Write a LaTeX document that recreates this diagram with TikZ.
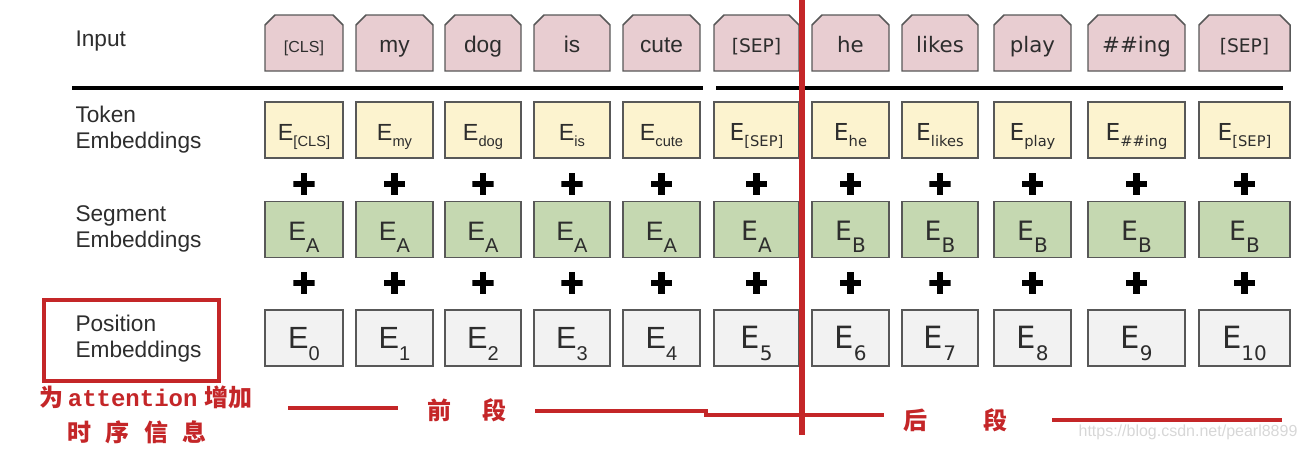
\documentclass[tikz,border=0pt]{standalone}
\usepackage{fontspec}
\setmainfont{Liberation Sans}
\newfontfamily\rfont{DejaVu Sans}
\newfontfamily\cjk{Noto Sans CJK SC}
\newfontfamily\courfont{Liberation Mono}
\usetikzlibrary{shapes.misc}

\definecolor{inpink}{RGB}{232,205,209}
\definecolor{tokyellow}{RGB}{252,243,207}
\definecolor{seggreen}{RGB}{197,216,177}
\definecolor{posgray}{RGB}{242,242,242}
\definecolor{boxgray}{RGB}{88,88,88}
\definecolor{txtgray}{RGB}{45,45,45}
\definecolor{markred}{RGB}{196,38,40}
\definecolor{wmgray}{RGB}{215,215,215}

% column fonts
\newcommand\lsf{\fontsize{17}{17}\selectfont}
\newcommand\rsf{\rfont\fontsize{16}{16}\selectfont}
% embeddings with lowered index
\newcommand\tokE[1]{\fontsize{17.5}{17.5}\selectfont E\raisebox{-5pt}{\fontsize{11}{11}\selectfont #1}}
\newcommand\segE[1]{\fontsize{20}{20}\selectfont E\raisebox{-9pt}{\fontsize{15}{15}\selectfont #1}}
\newcommand\posE[1]{\fontsize{23}{23}\selectfont E\raisebox{-9pt}{\fontsize{15}{15}\selectfont #1}}

\tikzset{every picture/.style={line width=0.75pt}}

\begin{document}
\begin{tikzpicture}[x=0.75pt,y=0.75pt,yscale=-1,xscale=1,
  box/.style={draw=boxgray, line width=1.1pt, minimum height=42pt, inner sep=0pt, text=txtgray},
  inbox/.style={box, chamfered rectangle, chamfered rectangle corners={north west,north east},
    chamfered rectangle xsep=3.5pt, chamfered rectangle ysep=4pt, fill=inpink,
    text height=15pt, text depth=1pt},
  tokbox/.style={box, fill=tokyellow, text height=17pt, text depth=2pt},
  segbox/.style={box, fill=seggreen, text height=18pt, text depth=2pt},
  posbox/.style={box, fill=posgray, text height=17pt, text depth=2pt},
  plussign/.style={minimum size=16pt, inner sep=0pt, path picture={
    \fill ([xshift=-8pt,yshift=-2.3pt]path picture bounding box.center) rectangle ([xshift=8pt,yshift=2.3pt]path picture bounding box.center);
    \fill ([xshift=-2.3pt,yshift=-8pt]path picture bounding box.center) rectangle ([xshift=2.3pt,yshift=8pt]path picture bounding box.center);}},
  rowlabel/.style={anchor=west, align=left, inner sep=0pt, text=txtgray, font=\fontsize{17}{19.5}\selectfont},
  note/.style={inner sep=0pt, text=markred, font=\cjk\bfseries\fontsize{18}{18}\selectfont},
  redline/.style={draw=markred, line width=3.5pt}]
\path[use as bounding box] (0,0) rectangle (1306,450);

% Text Node
\node[rowlabel] (inputlbl) at (75,41) {Input};
\node[rowlabel] (toklbl) at (75,130) {Token\\Embeddings};
\node[rowlabel] (seglbl) at (75,229) {Segment\\Embeddings};
\node[rowlabel] (poslbl) at (75,339) {Position\\Embeddings};

%Shape: rule under the input row
\coordinate (rule0) at (72,88);
\coordinate (rule1) at (703,88);
\coordinate (rule2) at (716,88);
\coordinate (rule3) at (1283,88);
\draw[line width=2.3pt] (rule0) -- (rule1) (rule2) -- (rule3);

%Shape: one column per token
\foreach \i/\cx/\w/\ff/\word/\sub in {
  0/304/78/\lsf/{\fontsize{12}{12}\selectfont[CLS]}/{[CLS]},
  1/394.5/77/\lsf/my/my,
  2/483/76/\lsf/dog/dog,
  3/572/76/\lsf/is/is,
  4/661.5/77/\lsf/cute/cute,
  5/756.5/85/\rsf/{\fontsize{14}{14}\selectfont[SEP]}/{[SEP]},
  6/850.5/77/\rsf/he/he,
  7/940/76/\rsf/likes/likes,
  8/1032.5/77/\rsf/play/play,
  9/1136.5/97/\rsf/{\#\#ing}/{\#\#ing},
  10/1244.5/91/\rsf/{\fontsize{14}{14}\selectfont[SEP]}/{[SEP]}}
{
  \node[inbox, minimum width=\w*0.75pt] (in\i) at (\cx,43) {\ff\word};
  \node[tokbox, minimum width=\w*0.75pt] (tok\i) at (\cx,130) {\ff\tokE{\sub}};
  \node[plussign] (plusa\i) at (\cx,184) {};
  \node[segbox, minimum width=\w*0.75pt] (seg\i) at (\cx,229.5) {\ff\segE{\ifnum\i<6 A\else B\fi}};
  \node[plussign] (plusb\i) at (\cx,283) {};
  \node[posbox, minimum width=\w*0.75pt] (pos\i) at (\cx,338) {\ff\posE{\i}};
}

%Shape: red frame round the position label
\node[draw=markred, line width=3pt, minimum width=131pt, minimum height=61pt] (posframe) at (131.5,340.5) {};

% Text Node
\node[note] (attnote) at (146,397) {为\hspace{3pt}{\courfont\bfseries attention}\hspace{5pt}增加};
\node[note] (timenote) at (137,432) {时\hspace{11pt}序\hspace{11pt}信\hspace{11pt}息};
\node[note] (frontnote) at (467,410) {前\hspace{24pt}段};
\node[note] (backnote) at (955,420) {后\hspace{42pt}段};

%Shape: red brackets of the two segments
\coordinate (fa0) at (288,408);
\coordinate (fa1) at (398,408);
\coordinate (fb0) at (535,411);
\coordinate (fb1) at (708,411);
\coordinate (fb2) at (704,415);
\coordinate (fb3) at (884,415);
\coordinate (ba0) at (1052,420);
\coordinate (ba1) at (1282,420);
\draw[redline] (fa0) -- (fa1) (fb0) -- (fb1) (fb2) -- (fb3) (ba0) -- (ba1);

%Shape: split line
\coordinate (splittop) at (802,0);
\coordinate (splitbot) at (802,435);
\draw[draw=markred, line width=3.8pt] (splittop) -- (splitbot);

% Text Node
\node[text=wmgray, inner sep=0pt, font=\fontsize{12}{12}\selectfont] (wmark) at (1188,432) {https://blog.csdn.net/pearl8899};

\end{tikzpicture}
\end{document}
